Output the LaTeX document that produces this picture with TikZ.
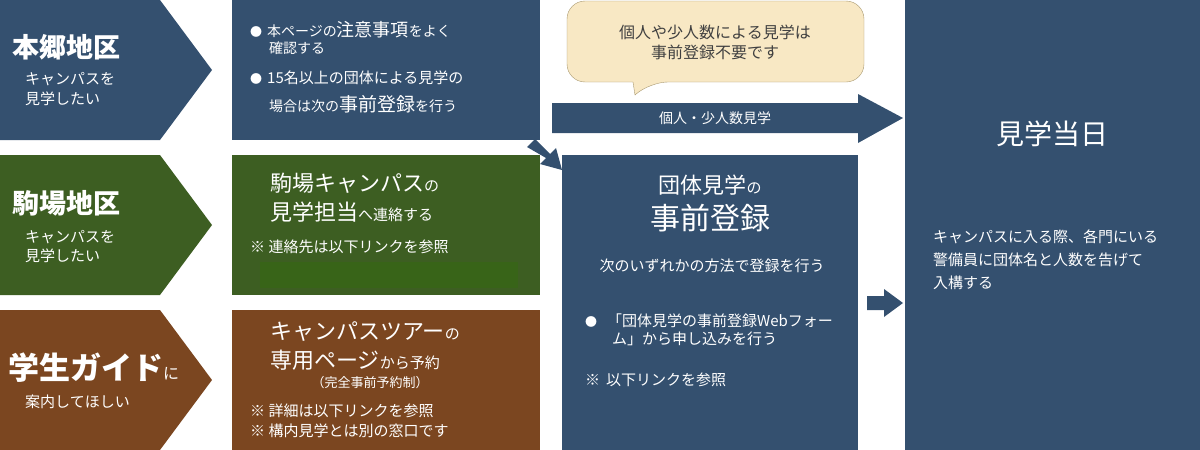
\documentclass[tikz,border=0pt]{standalone}
\usepackage{fontspec}
\setmainfont{Noto Sans CJK JP}
\usepackage{xcolor}
\definecolor{hongo}{RGB}{52,80,111}
\definecolor{komaba}{RGB}{61,94,34}
\definecolor{guide}{RGB}{123,70,32}
\definecolor{linkbar}{RGB}{56,100,24}
\definecolor{bubblefill}{RGB}{248,232,196}
\definecolor{bubbleline}{RGB}{168,152,112}
\usetikzlibrary{positioning}
\newcommand{\fs}[1]{\fontsize{#1}{#1}\selectfont}
\tikzset{
  txt/.style={anchor=west,inner sep=0pt,text=white},
  ctxt/.style={anchor=center,inner sep=0pt,text=white,align=center},
}
\begin{document}
\begin{tikzpicture}[x=1pt,y=-1pt]
    \useasboundingbox (0,0) rectangle (1200,450);
    % chevrons
    \fill[hongo] (0,0) -- (160,0) -- (212,70) -- (160,140) -- (0,140) -- cycle;
    \fill[komaba] (0,155) -- (160,155) -- (212,225) -- (160,295) -- (0,295) -- cycle;
    \fill[guide] (0,310) -- (160,310) -- (212,380) -- (160,450) -- (0,450) -- cycle;
    % boxes
    \fill[hongo] (232,0) rectangle (540,140);
    \fill[komaba] (232,155) rectangle (540,295);
    \fill[linkbar] (260,262) rectangle (518,288);
    \fill[guide] (232,310) rectangle (540,450);
    \fill[hongo] (562,155) rectangle (858,450);
    \fill[hongo] (905,0) rectangle (1200,450);
    % bubble
    \draw[bubbleline,fill=bubblefill,rounded corners=18pt] (567,1) -- (864,1) -- (864,82) -- (650,82)
        [sharp corners] -- (635,95) -- (633,82) [rounded corners=18pt] -- (567,82) -- cycle;
    \node[ctxt,text=black!75,font=\fs{16}] (bubble) at (715,42) {個人や少人数による見学は\\[4pt]事前登録不要です};
    % block arrows
    \fill[hongo] (552,103) -- (858,103) -- (858,94) -- (903,118) -- (858,143) -- (858,133) -- (552,133) -- cycle;
    \node[ctxt] (small) at (715,118) {\fs{14}個人・少人数見学};
    \fill[hongo] (527,147) -- (535,139) -- (550,154) -- (556,148) -- (562,170) -- (540,164) -- (546,158) -- cycle;
    \fill[hongo] (867,296) -- (884,296) -- (884,289) -- (903,303) -- (884,317) -- (884,310) -- (867,310) -- cycle;
    % left texts
    \node[txt] (hongo) at (12,47) {\fs{27}\bfseries 本郷地区};
    \node[txt] (h1) at (25,79) {\fs{15}キャンパスを};
    \node[txt] (h2) at (25,99) {\fs{15}見学したい};
    \node[txt] (komaba) at (12,203) {\fs{27}\bfseries 駒場地区};
    \node[txt] (k1) at (25,237) {\fs{15}キャンパスを};
    \node[txt] (k2) at (25,256) {\fs{15}見学したい};
    \node[txt] (guide) at (8,368) {\fs{31}\bfseries 学生ガイド\fs{16}\mdseries に};
    \node[txt] (g1) at (25,402) {\fs{15}案内してほしい};
    % box 1
    \node[txt] (b1) at (250,30) {\fs{12}●\hspace{5pt}\fs{14}本ページの\fs{18}注意事項\fs{14}をよく};
    \node[txt] (b1b) at (269,48) {\fs{14}確認する};
    \node[txt] (b2) at (250,78) {\fs{12}●\hspace{5pt}\fs{15}15名以上の団体による見学の};
    \node[txt] (b2b) at (269,104) {\fs{14}場合は次の\fs{19}事前登録\fs{14}を行う};
    % box 2
    \node[txt] (k3) at (270,183) {\fs{22}駒場キャンパス\fs{15}の};
    \node[txt] (k4) at (270,212) {\fs{22}見学担当\fs{15}へ連絡する};
    \node[txt] (k5) at (250,247) {\fs{15}※ 連絡先は以下リンクを参照};
    % box 3
    \node[txt] (g2) at (270,332) {\fs{22}キャンパスツアー\fs{15}の};
    \node[txt] (g3) at (270,360) {\fs{22}専用ページ\fs{15}から予約};
    \node[ctxt] (g4) at (370,383) {\fs{13}（完全事前予約制）};
    \node[txt] (g5) at (250,411) {\fs{15}※ 詳細は以下リンクを参照};
    \node[txt] (g6) at (250,431) {\fs{15}※ 構内見学とは別の窓口です};
    % center box
    \node[ctxt] (group) at (710,185) {\fs{22}団体見学\fs{15}の};
    \node[ctxt] (reg) at (710,218) {\fs{30}事前登録};
    \node[ctxt] (how) at (712,266) {\fs{15}次のいずれかの方法で登録を行う};
    \node[txt] (web) at (585,321) {\fs{12}●\hspace{10pt}\fs{15}「団体見学の事前登録Webフォー};
    \node[txt] (web2) at (612,339) {\fs{15}ム」から申し込みを行う};
    \node[txt] (link) at (585,380) {\fs{15}※\hspace{6pt}以下リンクを参照};
    % right box
    \node[ctxt] (day) at (1052,134) {\fs{28}見学当日};
    \node[txt] (d1) at (933,237) {\fs{15}キャンパスに入る際、各門にいる};
    \node[txt] (d2) at (933,260) {\fs{15}警備員に団体名と人数を告げて};
    \node[txt] (d3) at (933,283) {\fs{15}入構する};
\end{tikzpicture}
\end{document}
